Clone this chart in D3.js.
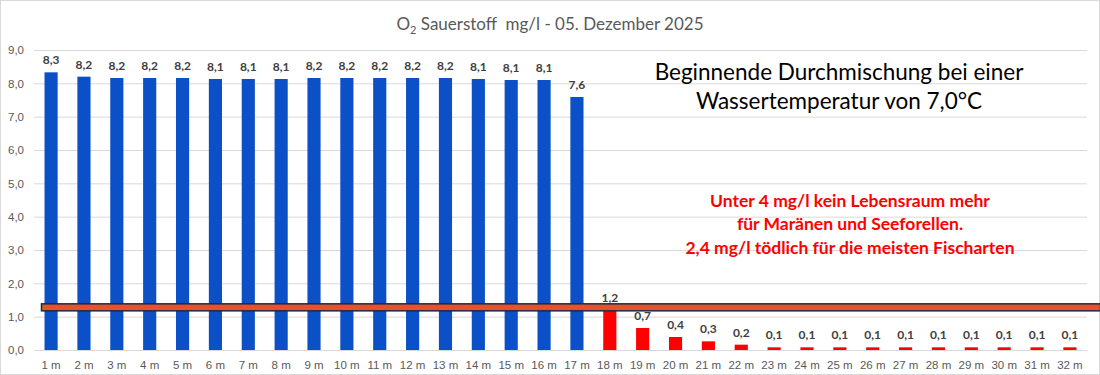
<!DOCTYPE html>
<html>
<head>
<meta charset="utf-8">
<script src="https://cdn.jsdelivr.net/npm/d3@7"></script>
<style>
  body { margin: 0; background: #fff; }
  svg { display: block; font-family: Lato, "Open Sans", sans-serif; }
</style>
</head>
<body>
<div id="chart"></div>
<script>
// Sauerstoff pro Tiefe (mg/l)
const depths = d3.range(1, 33).map(d => d + ' m');
const oxygen = [8.33, 8.2, 8.16, 8.16, 8.16, 8.13, 8.13, 8.13, 8.16, 8.16, 8.16, 8.16, 8.16, 8.13, 8.1, 8.1, 7.59,
                1.2, 0.66, 0.39, 0.26, 0.16, 0.08, 0.08, 0.08, 0.08, 0.08, 0.08, 0.08, 0.08, 0.08, 0.08];
const yTicks = [0, 1, 2, 3, 4, 5, 6, 7, 8, 9];
const thresholdLine = 1.28;   // orange Markierung
const redFrom = 18;           // ab 18 m rote Balken

const noteLines = ['Beginnende Durchmischung bei einer', 'Wassertemperatur von 7,0°C'];
const warnLines = ['Unter 4 mg/l kein Lebensraum mehr', 'für Maränen und Seeforellen.', '2,4 mg/l tödlich für die meisten Fischarten'];

const W = 1100, H = 375;
const plot = {left: 34, right: 1087, top: 50, bottom: 350};

const svg = d3.select('#chart').append('svg')
    .attr('width', W)
    .attr('height', H);

// outer border
svg.append('rect')
    .attr('x', 0.5).attr('y', 0.5)
    .attr('width', W - 1).attr('height', H - 1)
    .attr('fill', 'none')
    .attr('stroke', '#d9d9d9');

const x = d3.scaleBand()
    .domain(depths)
    .range([plot.left, plot.right])
    .paddingInner(0.6)
    .paddingOuter(0.32);

const y = d3.scaleLinear()
    .domain([0, 9])
    .range([plot.bottom, plot.top]);

const fmt = v => d3.format('.1f')(v).replace('.', ',');

// gridlines + y axis
const yAxis = svg.append('g')
    .attr('transform', `translate(${plot.left},0)`)
    .call(d3.axisLeft(y).tickValues(yTicks).tickFormat(fmt)
        .tickSize(-(plot.right - plot.left)).tickPadding(10));
yAxis.select('.domain').remove();
yAxis.selectAll('.tick line').attr('stroke', '#d9d9d9');
yAxis.selectAll('.tick text')
    .attr('fill', '#595959')
    .style('font-size', '11.5px');

// x axis labels
const xAxis = svg.append('g')
    .attr('transform', `translate(0,${plot.bottom})`)
    .call(d3.axisBottom(x).tickSize(0).tickPadding(11));
xAxis.select('.domain').remove();
xAxis.selectAll('.tick text')
    .attr('fill', '#595959')
    .style('font-size', '11.5px');

// bars
const data = depths.map((d, i) => ({depth: d, v: oxygen[i], n: i + 1}));

svg.append('g').selectAll('rect')
    .data(data)
    .join('rect')
    .attr('x', d => x(d.depth))
    .attr('y', d => y(d.v))
    .attr('width', x.bandwidth())
    .attr('height', d => y(0) - y(d.v))
    .attr('fill', d => d.n >= redFrom ? '#ff0000' : '#0b50c6');

// value labels
svg.append('g').selectAll('text')
    .data(data)
    .join('text')
    .attr('x', d => x(d.depth) + x.bandwidth() / 2)
    .attr('y', d => y(d.v) - 8)
    .attr('text-anchor', 'middle')
    .attr('fill', '#404040')
    .style('font-size', '12px')
    .style('font-weight', 'bold')
    .text(d => fmt(d.v));

// threshold bar
svg.append('rect')
    .attr('x', 41.5)
    .attr('y', y(thresholdLine) - 3.5)
    .attr('width', W - 41)
    .attr('height', 7)
    .attr('fill', '#e8512a')
    .attr('stroke', '#1c2a48')
    .attr('stroke-width', 1.5);

// title
const title = svg.append('text')
    .attr('x', 550)
    .attr('y', 30)
    .attr('text-anchor', 'middle')
    .attr('fill', '#595959')
    .style('font-size', '17px')
    .style('white-space', 'pre');
title.append('tspan').text('O');
title.append('tspan').attr('dy', 4).style('font-size', '11px').text('2');
title.append('tspan').attr('dy', -4).text(' Sauerstoff  mg/l - 05. Dezember 2025');

// notes
svg.append('g').selectAll('text')
    .data(noteLines)
    .join('text')
    .attr('x', 839)
    .attr('y', (d, i) => 80 + i * 29)
    .attr('text-anchor', 'middle')
    .attr('fill', '#000')
    .style('font-size', '22.5px')
    .text(d => d);

svg.append('g').selectAll('text')
    .data(warnLines)
    .join('text')
    .attr('x', 850)
    .attr('y', (d, i) => 206.5 + i * 23.5)
    .attr('text-anchor', 'middle')
    .attr('fill', '#ff0000')
    .style('font-size', '17.5px')
    .style('font-weight', 'bold')
    .text(d => d);
</script>
</body>
</html>
